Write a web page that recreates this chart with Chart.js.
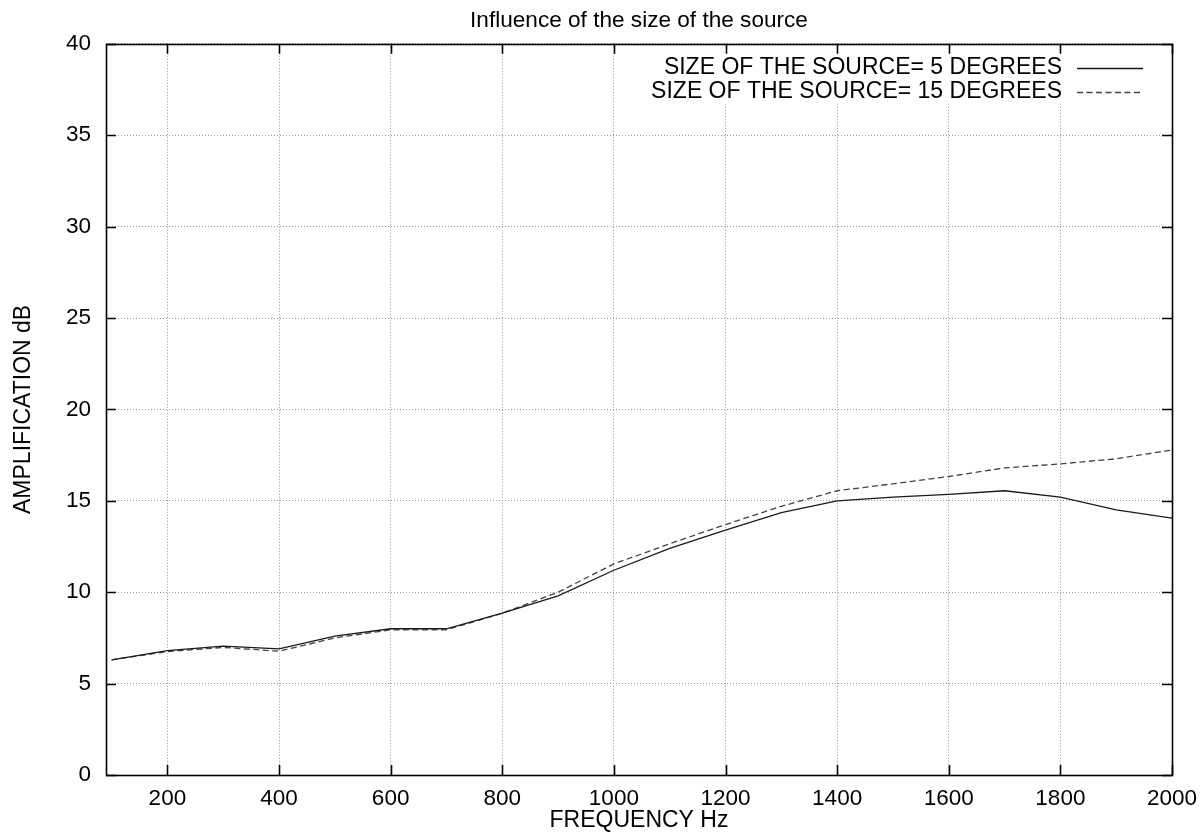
<!DOCTYPE html>
<html>
<head>
<meta charset="utf-8">
<title>Influence of the size of the source</title>
<script src="https://cdn.jsdelivr.net/npm/chart.js@4.4.1/dist/chart.umd.min.js"></script>
<style>
  html, body { margin: 0; padding: 0; background: #fff; }
  #wrap { width: 1204px; height: 838px; position: relative; }
</style>
</head>
<body>
<div id="wrap"><canvas id="chart"></canvas></div>
<script>
// frequência (Hz) e amplificação (dB)
const frequencias = [100, 200, 300, 400, 500, 600, 700, 800, 900, 1000,
  1100, 1200, 1300, 1400, 1500, 1600, 1700, 1800, 1900, 2000];
const fonte5graus = [6.3, 6.8, 7.05, 6.9, 7.6, 8.0, 8.0, 8.85, 9.8, 11.2,
  12.4, 13.4, 14.35, 15.0, 15.2, 15.35, 15.55, 15.2, 14.5, 14.05];
const fonte15graus = [6.3, 6.75, 6.98, 6.77, 7.5, 7.94, 7.94, 8.85, 10.0, 11.55,
  12.65, 13.7, 14.7, 15.55, 15.93, 16.33, 16.8, 17.02, 17.3, 17.78];
const xTicks = [200, 400, 600, 800, 1000, 1200, 1400, 1600, 1800, 2000];
const yTicks = [0, 5, 10, 15, 20, 25, 30, 35, 40];

const FONTE = '"Liberation Sans", Arial, Helvetica, sans-serif';
Chart.defaults.font.family = FONTE;
Chart.defaults.color = '#000';

function pares(ys) {
  return frequencias.map((f, i) => ({ x: f, y: ys[i] }));
}

/* moldura, ticks internos e legenda no estilo gnuplot */
const gnuplotStyle = {
  id: 'gnuplotStyle',
  beforeDatasetsDraw(chart) {
    const { ctx, chartArea: a } = chart;
    // fundo opaco da legenda
    ctx.save();
    ctx.fillStyle = '#fff';
    ctx.fillRect(630, a.top, a.right - 630, 102 - a.top);
    ctx.restore();
  },
  afterDatasetsDraw(chart) {
    const { ctx, chartArea: a, scales } = chart;
    const len = 10;
    ctx.save();
    ctx.strokeStyle = '#000';
    ctx.lineWidth = 1.6;
    ctx.beginPath();
    scales.x.ticks.forEach(t => {
      const px = Math.round(scales.x.getPixelForValue(t.value)) + 0.5;
      ctx.moveTo(px, a.bottom); ctx.lineTo(px, a.bottom - len);
      ctx.moveTo(px, a.top); ctx.lineTo(px, a.top + len);
    });
    scales.y.ticks.forEach(t => {
      const py = Math.round(scales.y.getPixelForValue(t.value)) + 0.5;
      ctx.moveTo(a.left, py); ctx.lineTo(a.left + len, py);
      ctx.moveTo(a.right, py); ctx.lineTo(a.right - len, py);
    });
    ctx.stroke();
    ctx.strokeRect(Math.round(a.left) + 0.5, Math.round(a.top) + 0.5,
      Math.round(a.right - a.left), Math.round(a.bottom - a.top));

    // legenda
    ctx.font = '23px ' + FONTE;
    ctx.fillStyle = '#000';
    ctx.textAlign = 'right';
    ctx.textBaseline = 'middle';
    chart.data.datasets.forEach((ds, i) => {
      const y = 68 + i * 23.5;
      ctx.fillText(ds.label, 1062, y);
      ctx.beginPath();
      ctx.strokeStyle = ds.borderColor;
      ctx.lineWidth = ds.borderWidth;
      ctx.setLineDash(ds.borderDash || []);
      ctx.moveTo(1077, Math.round(y) + 0.5);
      ctx.lineTo(1143, Math.round(y) + 0.5);
      ctx.stroke();
      ctx.setLineDash([]);
    });
    ctx.restore();
  }
};

new Chart(document.getElementById('chart'), {
  type: 'line',
  data: {
    datasets: [
      {
        label: 'SIZE OF THE SOURCE= 5 DEGREES',
        data: pares(fonte5graus),
        borderColor: '#1a1a1a',
        borderWidth: 1.3,
        pointRadius: 0,
        tension: 0
      },
      {
        label: 'SIZE OF THE SOURCE= 15 DEGREES',
        data: pares(fonte15graus),
        borderColor: '#444',
        borderWidth: 1.3,
        borderDash: [6, 3.5],
        pointRadius: 0,
        tension: 0
      }
    ]
  },
  options: {
    responsive: true,
    maintainAspectRatio: false,
    animation: false,
    layout: { padding: { top: 0, left: 0, right: 32, bottom: 0 } },
    plugins: {
      legend: { display: false },
      tooltip: { enabled: false },
      title: {
        display: true,
        fullSize: false,
        text: 'Influence of the size of the source',
        font: { size: 22.6, weight: 'normal' },
        color: '#000',
        padding: { top: 7.2, bottom: 9.5 }
      }
    },
    scales: {
      x: {
        type: 'linear',
        min: 90,
        max: 2000,
        afterBuildTicks: s => { s.ticks = xTicks.map(v => ({ value: v })); },
        afterFit: s => { s.height = 63; s.paddingRight = 0; s.paddingLeft = 0; },
        grid: { color: '#999', lineWidth: 1, drawTicks: false },
        border: { display: false, dash: [1, 2] },
        ticks: {
          font: { size: 22.5 },
          padding: 10,
          maxRotation: 0,
          color: '#000',
          callback: v => String(v)
        },
        title: {
          display: true,
          text: 'FREQUENCY Hz',
          font: { size: 23 },
          color: '#000',
          padding: { top: 0, bottom: 4 }
        }
      },
      y: {
        min: 0,
        max: 40,
        afterBuildTicks: s => { s.ticks = yTicks.map(v => ({ value: v })); },
        afterFit: s => { s.width = 106; s.paddingTop = 0; s.paddingBottom = 0; },
        grid: { color: '#999', lineWidth: 1, drawTicks: false },
        border: { display: false, dash: [1, 2] },
        ticks: { font: { size: 22.5 }, padding: 15, color: '#000', callback: v => String(v) },
        title: {
          display: true,
          text: 'AMPLIFICATION dB',
          font: { size: 23 },
          color: '#000',
          padding: { top: 10, bottom: 0 }
        }
      }
    }
  },
  plugins: [gnuplotStyle]
});
</script>
</body>
</html>
